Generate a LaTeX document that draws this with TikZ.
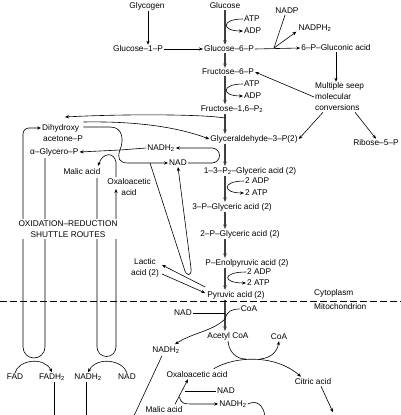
\documentclass[tikz,border=0pt]{standalone}
\usepackage{fontspec}
\setmainfont{Liberation Sans}
\usetikzlibrary{arrows.meta,calc}
\begin{document}
\begin{tikzpicture}[x=1pt,y=-1pt,
  lbl/.style={font=\fontsize{8.3}{9}\selectfont, inner sep=1pt},
  lbltwo/.style={font=\fontsize{8.3}{10.5}\selectfont, inner sep=1pt, align=center},
  ln/.style={line width=0.6pt},
  arr/.style={ln,-{Stealth[length=4pt,width=3.2pt]}},
  mainarr/.style={line width=1.1pt,black!75,-{Stealth[length=4.5pt,width=3.6pt]}}]
\useasboundingbox (0,0) rectangle (401,415);
\fill[white] (0,0) rectangle (401,415);
\coordinate (mx) at (225,0);
% ---------- labels, main column
\node[lbl] (glycogen) at (147,6) {Glycogen};
\node[lbl] (glucose) at (225,6) {Glucose};
\node[lbl] (g1p) at (138,49) {Glucose–1–P};
\node[lbl] (g6p) at (229,49) {Glucose–6–P};
\node[lbl,anchor=west] (atpa) at (243,19) {ATP};
\node[lbl,anchor=west] (adpa) at (243,31) {ADP};
\node[lbl] (nadp) at (287,11) {NADP};
\node[lbl] (nadph) at (315,28) {NADPH\textsubscript{2}};
\node[lbl] (gluc) at (336,48) {6–P–Gluconic acid};
\node[lbl] (f6p) at (228,72) {Fructose–6–P};
\node[lbl,anchor=west] (atpb) at (243,84) {ATP};
\node[lbl,anchor=west] (adpb) at (243,96) {ADP};
\node[lbl] (f16) at (232,109) {Fructose–1,6–P\textsubscript{2}};
\node[font=\fontsize{8.3}{11}\selectfont,inner sep=1pt,anchor=west,align=left] (multi) at (314,97) {Multiple seep\\molecular\\conversions};
\node[lbl] (gap) at (254,139) {Glyceraldehyde–3–P(2)};
\node[lbl] (ribose) at (376,143) {Ribose–5–P};
\node[lbl] (bpg) at (250,171) {1–3–P\textsubscript{2}–Glyceric acid (2)};
\node[lbl,anchor=west] (adpc) at (244,181) {2 ADP};
\node[lbl,anchor=west] (atpc) at (244,193) {2 ATP};
\node[lbl] (pg3) at (232,207) {3–P–Glyceric acid (2)};
\node[lbl] (pg2) at (240,234) {2–P–Glyceric acid (2)};
\node[lbl] (pep) at (247,263) {P–Enolpyruvic acid (2)};
\node[lbl,anchor=west] (adpd) at (246,272) {2 ADP};
\node[lbl,anchor=west] (atpd) at (246,283) {2 ATP};
\node[lbl] (pyr) at (236,295) {Pyruvic acid (2)};
\node[lbltwo] (lactic) at (145,268) {Lactic\\acid (2)};
\node[lbl,anchor=west] (cyto) at (313,293) {Cytoplasm};
\node[lbl,anchor=west] (mito) at (313,307) {Mitochondrion};
% ---------- left side
\node[lbl,anchor=west] (dhap) at (41,128) {Dihydroxy};
\node[lbl,anchor=west] (dhapb) at (42,139) {acetone–P};
\node[lbl,anchor=west] (agp) at (29,152) {α–Glycero–P};
\node[lbl] (malic) at (82,172) {Malic acid};
\node[lbltwo] (oaa) at (129,187) {Oxaloacetic\\acid};
\node[lbl] (nadha) at (161,148) {NADH\textsubscript{2}};
\node[lbl] (nada) at (178,163) {NAD};
\node[lbl] (fad) at (15,377) {FAD};
\node[lbl] (fadh) at (52,377) {FADH\textsubscript{2}};
\node[lbl] (nadhb) at (88,377) {NADH\textsubscript{2}};
\node[lbl] (nadb) at (127,377) {NAD};
% ---------- mitochondrion
\node[lbl] (nadm) at (183,313) {NAD};
\node[lbl] (coaa) at (249,309) {CoA};
\node[lbl] (acoa) at (228,336) {Acetyl CoA};
\node[lbl] (coab) at (279,337) {CoA};
\node[lbl] (nadhm) at (166,350) {NADH\textsubscript{2}};
\node[lbl] (oaab) at (197,375) {Oxaloacetic acid};
\node[lbl] (citric) at (313,382) {Citric acid};
\node[lbl] (nadc) at (226,391) {NAD};
\node[lbl] (nadhc) at (233,404) {NADH\textsubscript{2}};
\node[lbl] (malicb) at (164,409.5) {Malic acid};
% ---------- main column arrows
\draw[mainarr] (glucose.south -| mx) -- (g6p.north -| mx);
\draw[mainarr] (g6p.south -| mx) -- (f6p.north -| mx);
\draw[mainarr] (f6p.south -| mx) -- (f16.north -| mx);
\draw[mainarr] (f16.south -| mx) -- (gap.north -| mx);
\draw[mainarr] (gap.south -| mx) -- (bpg.north -| mx);
\draw[mainarr] (bpg.south -| mx) -- (pg3.north -| mx);
\draw[mainarr] (pg3.south -| mx) -- (pg2.north -| mx);
\draw[mainarr] (pg2.south -| mx) -- (pep.north -| mx);
\draw[mainarr] (pep.south -| mx) -- (pyr.north -| mx);
\draw[mainarr] (pyr.south -| mx) -- (acoa.north -| mx);
% side ATP/ADP
\draw[arr] (atpa.west) .. controls (221,19) and (221,31) .. (adpa.west);
\draw[arr] (atpb.west) .. controls (221,84) and (221,96) .. (adpb.west);
\draw[arr] (adpc.west) .. controls (222,181) and (222,193) .. (atpc.west);
\draw[arr] (adpd.west) .. controls (222,272) and (222,283) .. (atpd.west);
% glycogen / pentose branch
\draw[arr] (glycogen.south -| 148,0) -- (g1p.north -| 148,0);
\draw[arr] (g1p.east) -- (g6p.west);
\draw[arr] (g6p.east) -- (gluc.west);
\coordinate (nj) at (274,48);
\draw[ln] ($(nadp.south)+(-2,0)$) -- (nj);
\draw[arr] (nj) -- ($(nadph.south west)+(-1,-1)$);
\draw[arr] (gluc.south) -- (gluc.south |- multi.north);
\draw[arr] (multi.west) -- (f6p.east);
\draw[arr] ($(multi.south west)+(9,0)$) -- (gap.east);
\draw[arr] ($(multi.south west)+(41,0)$) -- (ribose.north);
% triose phosphates
\coordinate (dtip) at (65,117);
\draw[arr] (225,118) .. controls (200,114) and (120,114) .. (dtip);
\draw[arr] ($(dhap.east)+(3,-6)$) .. controls (140,121) and (180,128) .. (gap.west);
\coordinate (J) at (120,150);
\draw[ln] ($(dhap.east)+(3,-1)$) -- (110,127) .. controls (123,127) and (124,140) .. (J);
\draw[arr] (nadha.west) -- (J) -- (agp.east);
\coordinate (K) at (150,163);
\draw[arr] (J) .. controls (117,158) and (119,163) .. (128,163) -- (nada.west);
\draw[arr] (nada.east) -- (212,163) arc[start angle=90,end angle=-90,radius=7.5] -- (nadha.east);
\draw[arr] (K) -- (184,268) .. controls (186,277) and (192,277) .. (191,268) -- (nada.south);
\coordinate (mtip) at (98,166);
\draw[arr] (116,177) -- (116,162) .. controls (114,152) and (103,152) .. (mtip);
% lactic
\draw[arr] ($(pyr.west)+(-1,-8)$) -- ($(lactic.east)+(2,-3)$);
\draw[arr] ($(lactic.east)+(2,6)$) -- ($(pyr.west)+(-1,-2)$);
% shuttles
\draw[arr] (45,158) -- (45,347) arc[start angle=0,end angle=180,radius=11] -- (23,134) arc[start angle=180,end angle=270,radius=6] -- (dhap.west);
\draw[arr] (97,178) -- (97,347) arc[start angle=180,end angle=0,radius=9.5] -- (116,189);
\node[lbltwo,fill=white,inner sep=2pt] (shuttle) at (68,229) {OXIDATION–REDUCTION\\SHUTTLE ROUTES};
\draw[arr] (fad.north) .. controls (18,360) and (44,356) .. (fadh.north);
\draw[arr] (nadb.north) .. controls (123,360) and (97,356) .. (nadhb.north);
\draw[ln] ($(fadh.south)+(2,0)$) -- ++(0,35);
\draw[ln] ($(nadhb.south)+(-2,0)$) -- ++(0,35);
% cytoplasm / mitochondrion boundary
\draw[line width=1pt,dash pattern=on 7pt off 3pt] (0,301) -- (401,301);
% mitochondrion
\coordinate (mj) at (225,319);
\draw[ln] (nadm.east) -- (nadm.east -| mx);
\draw[ln] (mj) .. controls (227,311) and (232,309) .. (coaa.west);
\draw[arr] (mj) .. controls (213,331) and (192,333) .. ($(nadhm.north)+(9,-1)$);
\draw[ln] ($(nadhm.south)+(-4,1)$) -- ++(-28,60);
\draw[arr] ($(oaab.north east)+(-15,-2)$) .. controls (235,356) and (275,354) .. ($(citric.north)+(-12,-1)$);
\draw[ln] (acoa.south) .. controls (229,352) and (236,359) .. (246,359);
\draw[arr] (260,359) .. controls (271,358) and (277,352) .. (coab.south);
\draw[arr] ($(citric.south)+(8,0)$) -- ++(12,26);
\draw[arr] ($(malicb.north)+(11,-1)$) -- ($(oaab.south)+(-9,0)$);
\draw[ln] (nadc.west) -- ++(-31,0);
\coordinate (L) at (179.5,397);
\draw[arr] (L) .. controls (181,404) and (185,404) .. (192,404) -- (nadhc.west);
\draw[ln] (nadhc.east) .. controls (256,400) and (263,404) .. (265,416);
\end{tikzpicture}
\end{document}
